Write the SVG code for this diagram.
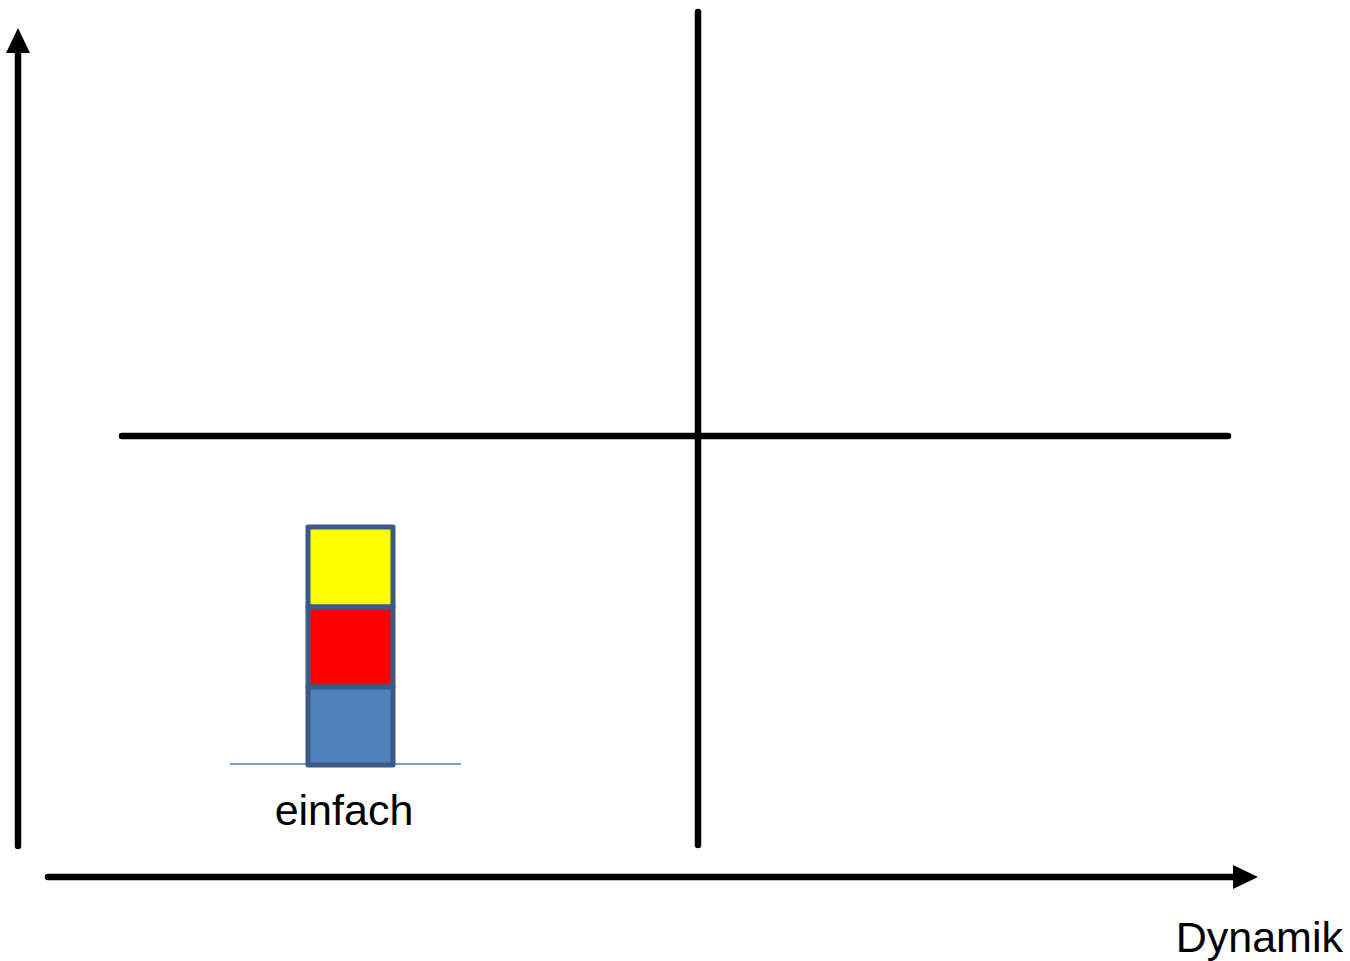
<svg xmlns="http://www.w3.org/2000/svg" width="1350" height="961" viewBox="0 0 1350 961">
<style>
.ax{stroke:#000;stroke-width:6.5;stroke-linecap:round;fill:none}
.box{stroke:#3a5a87;stroke-width:5;stroke-linejoin:round}
.lbl{font-family:"Liberation Sans",Arial,sans-serif;font-size:43px;fill:#000}
</style>
<rect width="1350" height="961" fill="#fff"/>
<g id="connectors">
<line class="ax" x1="18" y1="846" x2="18" y2="50"/>
<polygon points="18,28 6,53 30,53" fill="#000"/>
<line class="ax" x1="48" y1="877" x2="1236" y2="877"/>
<polygon points="1258,877 1233,865 1233,889" fill="#000"/>
<line class="ax" x1="698" y1="12" x2="698" y2="845"/>
<line class="ax" x1="122" y1="436" x2="1228" y2="436"/>
<line x1="230" y1="764" x2="461" y2="764" stroke="#4f81bd" stroke-width="1.5"/>
</g>
<g id="stack">
<rect class="box" x="308" y="527" width="85" height="80" fill="#ffff00"/>
<rect class="box" x="308" y="607" width="85" height="80" fill="#ff0000"/>
<rect class="box" x="308" y="687" width="85" height="78" fill="#4f81bd"/>
</g>
<g id="label-einfach"><text class="lbl" x="344" y="825" text-anchor="middle">einfach</text></g>
<g id="label-dynamik"><text class="lbl" x="1343" y="952" text-anchor="end">Dynamik</text></g>
</svg>
